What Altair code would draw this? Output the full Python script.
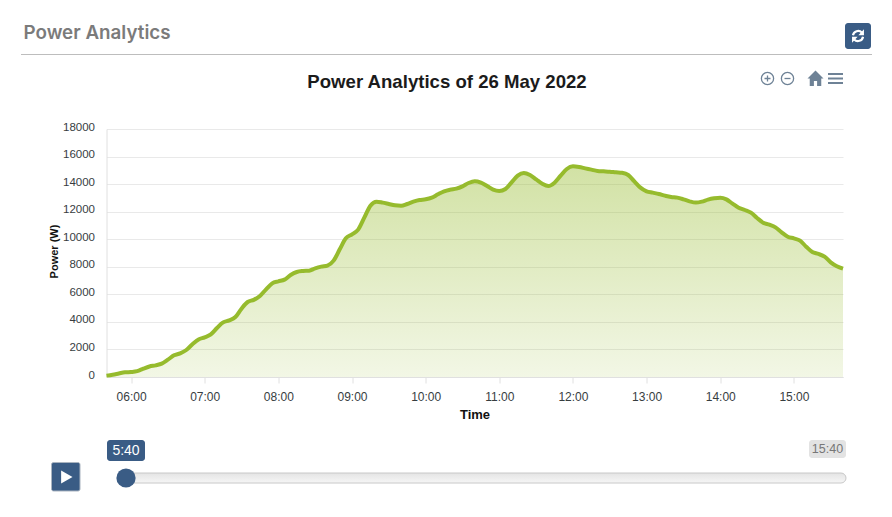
import altair as alt
import pandas as pd

power_w = [97, 170, 255, 339, 363, 424, 605, 762, 847, 968, 1258, 1573, 1718, 1960, 2371, 2722,
           2879, 3097, 3556, 3968, 4113, 4355, 4960, 5443, 5600, 5880, 6364, 6800, 6945, 7066,
           7404, 7622, 7695, 7719, 7888, 8009, 8082, 8445, 9267, 10065, 10356, 10694, 11565,
           12436, 12726, 12654, 12557, 12460, 12430, 12557, 12726, 12847, 12896, 13017, 13258,
           13476, 13597, 13670, 13839, 14081, 14202, 14105, 13863, 13597, 13500, 13645, 14129,
           14613, 14807, 14661, 14347, 14032, 13863, 14105, 14613, 15097, 15290, 15242, 15145,
           15049, 14952, 14928, 14903, 14855, 14819, 14661, 14202, 13742, 13476, 13379, 13283,
           13162, 13065, 13017, 12896, 12750, 12660, 12725, 12870, 12967, 13016, 12895, 12580,
           12290, 12121, 11927, 11540, 11201, 11056, 10863, 10500, 10185, 10064, 9895, 9460,
           9073, 8928, 8734, 8323, 8032, 7863]
minutes = list(range(340, 340 + 5 * len(power_w), 5))
hour_ticks = [360, 420, 480, 540, 600, 660, 720, 780, 840, 900]
y_ticks = [0, 2000, 4000, 6000, 8000, 10000, 12000, 14000, 16000, 18000]
chart_title = "Power Analytics of 26 May 2022"
panel_title = "Power Analytics"
start_label, end_label = "5:40", "15:40"

series = pd.DataFrame({"minute": minutes, "power": power_w})
one = alt.Data(values=[{"a": 1}])

L, T, W, H = 106.5, 129, 736.5, 248
def X(v): return alt.value(v - L)
def Y(v): return alt.value(v - T)

FONT = "Liberation Sans"
BLUE = "#3a5c85"
ICON = "#6e8296"

x_enc = alt.X("minute:Q",
              scale=alt.Scale(domain=[minutes[0], minutes[-1]], nice=False, zero=False),
              axis=alt.Axis(title="Time", values=hour_ticks, grid=False,
                            labelExpr="(floor(datum.value/60) < 10 ? '0' : '') + floor(datum.value/60) + ':00'",
                            domainColor="#e0e0e0", tickColor="#e0e0e0", tickSize=6,
                            labelColor="#373d3f", labelFont=FONT, labelFontSize=12,
                            labelPadding=8,
                            titleFont=FONT, titleFontSize=13, titleFontWeight="bold",
                            titleColor="#111", titlePadding=6, titleX=368))
y_enc = alt.Y("power:Q",
              scale=alt.Scale(domain=[0, 18000], nice=False),
              axis=alt.Axis(title="Power (W)", values=y_ticks, grid=True, gridColor="#e9e9e9",
                            ticks=False, domainColor="#e0e0e0", format="d",
                            labelColor="#373d3f", labelFont=FONT, labelFontSize=11.5,
                            labelPadding=12, labelOffset=-2, titleFont=FONT, titleFontSize=11,
                            titleFontWeight="bold", titleColor="#111",
                            titleX=-47.5, titleY=122))

area = alt.Chart(series).mark_area(
    interpolate="monotone",
    color=alt.LinearGradient(gradient="linear", x1=1, x2=1, y1=0, y2=1,
                             stops=[alt.GradientStop(color="rgba(150,187,45,0.43)", offset=0),
                                    alt.GradientStop(color="rgba(150,187,45,0.12)", offset=1)]),
).encode(x=x_enc, y=y_enc)
line = alt.Chart(series).mark_line(interpolate="monotone", color="#96bb2d", strokeWidth=4).encode(
    x=x_enc, y=y_enc)


def text(s, x, y, **kw):
    return alt.Chart(one).mark_text(text=s, **kw).encode(x=X(x), y=Y(y))


def rect(x0, x1, y0, y1, **kw):
    return alt.Chart(one).mark_rect(**kw).encode(x=X(x0), x2=X(x1), y=Y(y0), y2=Y(y1))


def sym(path, x, y, d, **kw):
    return alt.Chart(one).mark_point(shape=path, size=d * d, **kw).encode(x=X(x), y=Y(y))


HOME = "M0,-1 L1,0 L0.72,0 L0.72,0.95 L0.2,0.95 L0.2,0.3 L-0.2,0.3 L-0.2,0.95 L-0.72,0.95 L-0.72,0 L-1,0 Z"
REFRESH_ARCS = "M-0.72,-0.1 A0.75,0.75 0 0 1 0.55,-0.5 M0.72,0.1 A0.75,0.75 0 0 1 -0.55,0.5"
REFRESH_HEADS = "M0.85,-0.95 L0.85,-0.1 L0.05,-0.1 Z M-0.85,0.95 L-0.85,0.1 L-0.05,0.1 Z"
PLUS = "M-0.5,0 L0.5,0 M0,-0.5 L0,0.5"
MINUS = "M-0.5,0 L0.5,0"

chrome = [
    text(panel_title, 23.5, 33, font="Inter", fontSize=18.8, fontWeight=600, color="#7b7b7b", align="left"),
    rect(21, 872, 54, 55, color="#bdbdbd"),
    rect(845, 871, 23, 49, color=BLUE, cornerRadius=3),
    sym(REFRESH_ARCS, 858, 36, 14, filled=False, color="white", strokeWidth=2.2, opacity=1),
    sym(REFRESH_HEADS, 858, 36, 14, filled=True, color="white", opacity=1),
    text(chart_title, 447, 82, font=FONT, fontSize=18.6, fontWeight="bold", color="#1b1b1b"),
    alt.Chart(one).mark_circle(size=150, filled=False, color=ICON, strokeWidth=1.3, opacity=1).encode(x=X(767.5), y=Y(78.5)),
    sym(PLUS, 767.5, 78.5, 12, filled=False, color=ICON, strokeWidth=1.3, opacity=1),
    alt.Chart(one).mark_circle(size=150, filled=False, color=ICON, strokeWidth=1.3, opacity=1).encode(x=X(787.5), y=Y(78.5)),
    sym(MINUS, 787.5, 78.5, 12, filled=False, color=ICON, strokeWidth=1.3, opacity=1),
    sym(HOME, 815.5, 78.5, 16, filled=True, color=ICON, opacity=1),
    rect(828, 843, 73, 75, color=ICON),
    rect(828, 843, 77.5, 79.5, color=ICON),
    rect(828, 843, 82, 84, color=ICON),
    rect(51.5, 80, 462.5, 491, color=BLUE, cornerRadius=2, stroke="#aab4c0", strokeWidth=1),
    sym("M-0.75,-1 L1,0 L-0.75,1 Z", 66, 477, 13, filled=True, color="white", opacity=1),
    rect(126, 846, 473, 483, cornerRadius=5, stroke="#c8c8c8", strokeWidth=1,
         color=alt.LinearGradient(gradient="linear", x1=0, x2=0, y1=0, y2=1,
                                  stops=[alt.GradientStop(color="#e4e4e4", offset=0),
                                         alt.GradientStop(color="#f6f6f6", offset=1)])),
    alt.Chart(one).mark_circle(size=370, color=BLUE, opacity=1).encode(x=X(126), y=Y(478)),
    rect(107, 145, 440, 461, color=BLUE, cornerRadius=3),
    text(start_label, 126, 450.5, font=FONT, fontSize=14, color="white"),
    rect(809, 846, 440, 458, color="#e3e3e3", cornerRadius=3),
    text(end_label, 827.5, 449, font=FONT, fontSize=12.5, color="#777777"),
]

chart = alt.layer(area, line, *chrome).properties(
    width=W, height=H,
    autosize=alt.AutoSizeParams(type="none"),
    padding={"left": L - 8, "top": T - 8, "right": 41, "bottom": 129},
).configure_view(stroke=None)

chart.save("out.html", embed_options={"renderer": "svg", "actions": False})
